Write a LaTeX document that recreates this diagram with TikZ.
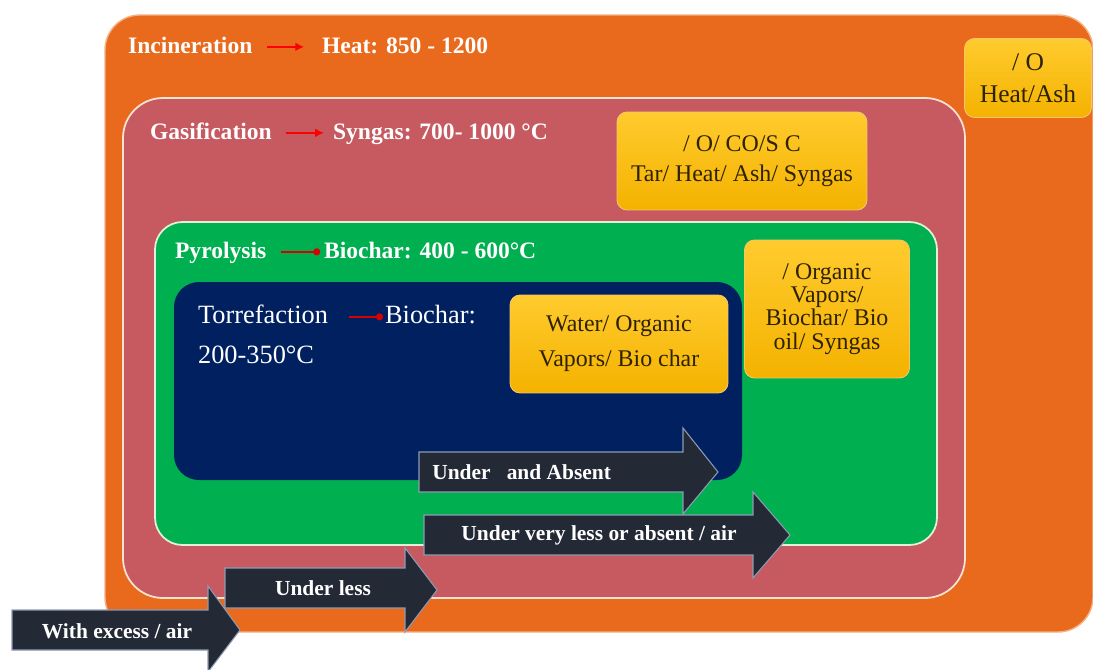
\documentclass[tikz,border=0pt]{standalone}
\usepackage{fontspec}
\setmainfont{Liberation Serif}
\usetikzlibrary{arrows.meta}
\definecolor{incinorange}{HTML}{E96A1C}
\definecolor{incinedge}{HTML}{F4B183}
\definecolor{gasired}{HTML}{C65A60}
\definecolor{gasiedge}{HTML}{FBE3D6}
\definecolor{pyrogreen}{HTML}{00B050}
\definecolor{pyroedge}{HTML}{E2F0D9}
\definecolor{torrnavy}{HTML}{002060}
\definecolor{arrowdark}{HTML}{232935}
\definecolor{arrowedge}{HTML}{8E9BB5}
\definecolor{goldtop}{HTML}{FFCB2E}
\definecolor{goldbot}{HTML}{F4B200}
\definecolor{goldedge}{HTML}{F6C56B}
\definecolor{boxtext}{HTML}{2E2200}

\begin{document}
\begin{tikzpicture}[x=0.02cm, y=-0.02cm]
\tikzset{hdr/.style={text=white, font=\fontsize{13.4}{15}\selectfont\bfseries, inner sep=1pt, anchor=base west},
  torr/.style={text=white, font=\fontsize{15}{18}\selectfont, inner sep=1pt, anchor=base west},
  gold/.style={draw=goldedge, line width=0.5pt, top color=goldtop, bottom color=goldbot, rounded corners=0.2cm, text=boxtext, align=center, inner sep=2pt},
  goarrow/.style={draw=red, line width=1.3pt, -{Latex[length=5pt,width=5pt]}},
  dotarrow/.style={draw=red!85!black, line width=1.3pt, -{Circle[length=4pt]}},
  blockarrow/.style={fill=arrowdark, draw=arrowedge, line width=0.6pt},
  arrowtext/.style={text=white, font=\fontsize{12.2}{14}\selectfont\bfseries, inner sep=0pt}}
\useasboundingbox (0,0) rectangle (1093,670);
\fill[white] (0,0) rectangle (1093,670);
\filldraw[fill=incinorange, draw=incinedge, line width=0.8pt, rounded corners=0.7cm] (105,15) rectangle (1093,632);
\filldraw[fill=gasired, draw=gasiedge, line width=1pt, rounded corners=0.8cm] (123,98) rectangle (965,598);
\filldraw[fill=pyrogreen, draw=pyroedge, line width=1pt, rounded corners=0.55cm] (155,222) rectangle (937,545);
\fill[torrnavy, rounded corners=0.5cm] (174,282) rectangle (742,480);
\node[hdr] (inc) at (126,53) {Incineration};
\node[hdr] (incH) at (320,53) {Heat: 850 - 1200};
\draw[goarrow] ([xshift=7pt,yshift=3.5pt]inc.base east) -- ([xshift=-9pt,yshift=3.5pt]incH.base west);
\node[hdr] (gas) at (148,139) {Gasification};
\node[hdr] (gasS) at (331,139) {Syngas: 700- 1000 °C};
\draw[goarrow] ([xshift=7pt,yshift=3.5pt]gas.base east) -- ([xshift=-4pt,yshift=3.5pt]gasS.base west);
\node[hdr] (pyr) at (173,258) {Pyrolysis};
\node[hdr] (pyrB) at (322,258) {Biochar: 400 - 600°C};
\draw[dotarrow] ([xshift=7pt,yshift=3.5pt]pyr.base east) -- ([xshift=-1pt,yshift=3.5pt]pyrB.base west);
\node[torr] (tor) at (196,323) {Torrefaction};
\node[torr] (torB) at (383,323) {Biochar:};
\node[torr] (torT) at (196,363) {200-350°C};
\draw[dotarrow] ([xshift=11pt,yshift=3.5pt]tor.base east) -- ([yshift=3.5pt]torB.base west);
\node[gold, minimum width=2.54cm, minimum height=1.58cm, font=\fontsize{14.5}{18.5}\selectfont] (ashbox) at (1028,78) {/ O\\Heat/Ash};
\node[gold, minimum width=5cm, minimum height=1.96cm, font=\fontsize{13.6}{17}\selectfont] (syngasbox) at (742,161) {/ O/ CO/S C\\Tar/ Heat/ Ash/ Syngas};
\node[gold, minimum width=3.3cm, minimum height=2.76cm, font=\fontsize{13.6}{13.2}\selectfont] (oilbox) at (827,309) {/ Organic\\Vapors/\\Biochar/ Bio\\oil/ Syngas};
\node[gold, minimum width=4.36cm, minimum height=1.96cm, font=\fontsize{13.6}{20}\selectfont] (charbox) at (619,344) {Water/ Organic\\Vapors/ Bio char};
\filldraw[blockarrow] (419,452) -- (683,452) -- (683,428) -- (718,472) -- (683,514) -- (683,492) -- (419,492) -- cycle;
\node[arrowtext, anchor=west] (absent) at (432,472) {Under\ \ \ and Absent};
\filldraw[blockarrow] (424,515) -- (753,515) -- (753,492) -- (790,535) -- (753,578) -- (753,555) -- (424,555) -- cycle;
\node[arrowtext] (veryless) at (599,535) {Under very less or absent / air};
\filldraw[blockarrow] (225,568) -- (405,568) -- (405,548) -- (437,590) -- (405,632) -- (405,608) -- (225,608) -- cycle;
\node[arrowtext] (less) at (323,588) {Under less};
\filldraw[blockarrow] (12,610) -- (208,610) -- (208,586) -- (240,630) -- (208,672) -- (208,650) -- (12,650) -- cycle;
\node[arrowtext] (excess) at (117,631) {With excess / air};
\end{tikzpicture}
\end{document}
